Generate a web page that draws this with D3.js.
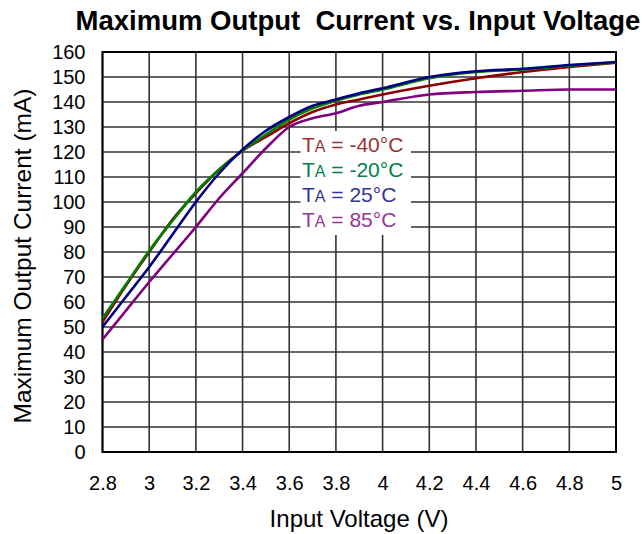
<!DOCTYPE html>
<html>
<head>
<meta charset="utf-8">
<script src="https://cdn.jsdelivr.net/npm/d3@7"></script>
<style>
  body { margin: 0; background: #fff; }
  svg { font-family: Arial, "Liberation Sans", sans-serif; }
</style>
</head>
<body>
<svg class="chart" width="642" height="534"></svg>
<script>
var voltage = [2.8, 2.9, 3.0, 3.1, 3.2, 3.3, 3.4, 3.5, 3.6, 3.7, 3.8, 3.9, 4.0, 4.2, 4.4, 4.6, 4.8, 5.0];

var currentM40 = [52, 66.5, 80, 93, 103.5, 113, 120.5, 126, 131.5, 136, 139, 141, 143, 146.5, 149.5, 152, 154, 155.7];
var currentM20 = [53.5, 67, 80.5, 92.5, 104, 113, 120.5, 127, 133, 137.5, 140.5, 143, 145, 149.5, 152, 153, 154.5, 155.8];
var current25  = [50, 62, 74, 87, 100, 111.5, 121, 128.5, 134, 138.5, 141, 143.5, 145.5, 150, 152.3, 153.3, 154.8, 156];
var current85  = [45, 56.5, 68, 79, 90, 101.5, 111.5, 121.5, 130, 133.5, 135.5, 138.5, 140, 143, 144, 144.5, 145, 145];

var xTicks = [2.8, 3.0, 3.2, 3.4, 3.6, 3.8, 4.0, 4.2, 4.4, 4.6, 4.8, 5.0];
var yTicks = d3.range(0, 161, 10);

var seriesNames = ["-40°C", "-20°C", "25°C", "85°C"];
var lineColours = ["#8b0000", "#008000", "#000080", "#800080"];
var textColours = ["#993333", "#00804a", "#333399", "#993399"];

var margin = {top: 52, right: 26, bottom: 82, left: 102.5},
    width = 616 - margin.left,
    height = 452 - margin.top;

var xScale = d3.scaleLinear().domain([2.8, 5]).range([0, width]);
var yScale = d3.scaleLinear().domain([0, 160]).range([height, 0]);

var chart = d3.select(".chart");
var g = chart.append("g")
    .attr("transform", "translate(" + margin.left + "," + margin.top + ")");

// grid
g.selectAll(".hgrid")
    .data(yTicks)
  .enter().append("line")
    .attr("x1", 0).attr("x2", width)
    .attr("y1", function(d) { return yScale(d); })
    .attr("y2", function(d) { return yScale(d); })
    .style("stroke", "#333").style("stroke-width", 1.6);

g.selectAll(".vgrid")
    .data(xTicks)
  .enter().append("line")
    .attr("x1", function(d) { return xScale(d); })
    .attr("x2", function(d) { return xScale(d); })
    .attr("y1", 0).attr("y2", height)
    .style("stroke", "#333").style("stroke-width", 1.6);

g.append("rect")
    .attr("width", width).attr("height", height)
    .style("fill", "none").style("stroke", "#000").style("stroke-width", 2);

// axes (labels only)
var yAxis = d3.axisLeft(yScale).tickValues(yTicks).tickSize(0).tickPadding(17);
var xAxis = d3.axisBottom(xScale).tickValues(xTicks).tickSize(0).tickPadding(24)
    .tickFormat(function(d) { return d3.format("")(+d.toFixed(1)); });

var ya = g.append("g").call(yAxis);
var xa = g.append("g").attr("transform", "translate(0," + height + ")").call(xAxis);
[ya, xa].forEach(function(a) {
  a.select(".domain").remove();
  a.selectAll("text").style("font-size", "20px").style("fill", "#000")
      .style("font-family", "Arial, 'Liberation Sans', sans-serif");
});

// curves
var allSeries = [currentM40, currentM20, current25, current85];
var drawOrder = [3, 0, 1, 2];
var line = d3.line()
    .x(function(d, i) { return xScale(voltage[i]); })
    .y(function(d) { return yScale(d); })
    .curve(d3.curveMonotoneX);

drawOrder.forEach(function(k) {
  g.append("path")
      .datum(allSeries[k])
      .attr("d", line)
      .style("fill", "none")
      .style("stroke", lineColours[k])
      .style("stroke-width", 2.6);
});

// legend
chart.append("rect")
    .attr("x", 300.5).attr("y", 131)
    .attr("width", 110.5).attr("height", 104)
    .style("fill", "#fff");

var legend = chart.selectAll(".legend")
    .data(seriesNames)
  .enter().append("text")
    .attr("class", "legend")
    .attr("x", 302)
    .attr("y", function(d, i) { return yScale(120 - i * 10) + margin.top; })
    .style("font-size", "21px")
    .style("fill", function(d, i) { return textColours[i]; });

legend.append("tspan").text("T");
legend.append("tspan").style("font-size", "16px").text("A");
legend.append("tspan").text(function(d) { return " = " + d; });

// titles
chart.append("text")
    .attr("x", 358).attr("y", 30)
    .style("text-anchor", "middle")
    .style("font-size", "27.5px").style("font-weight", "bold")
    .attr("xml:space", "preserve")
    .text("Maximum Output  Current vs. Input Voltage");

chart.append("text")
    .attr("x", 359).attr("y", 527)
    .style("text-anchor", "middle")
    .style("font-size", "24px")
    .text("Input Voltage (V)");

chart.append("text")
    .attr("transform", "translate(31,256) rotate(-90)")
    .style("text-anchor", "middle")
    .style("font-size", "24.5px")
    .text("Maximum Output Current (mA)");
</script>
</body>
</html>
